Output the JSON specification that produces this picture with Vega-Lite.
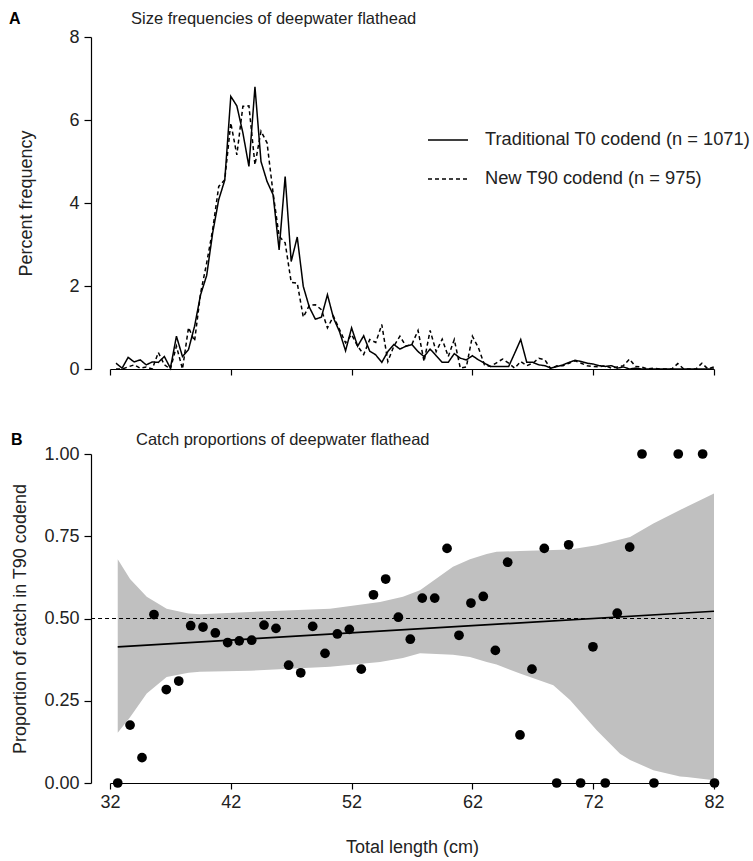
{
  "$schema": "https://vega.github.io/schema/vega-lite/v6.json",
  "padding": {"left": 8, "top": 10, "right": 5, "bottom": 5},
  "background": "white",
  "config": {
    "view": {"stroke": null},
    "font": "Liberation Sans",
    "axis": {"domainColor": "black", "tickColor": "black", "labelColor": "#222", "titleColor": "#222", "labelFontSize": 18, "titleFontSize": 18, "titleFontWeight": "normal", "grid": false, "tickSize": 6, "domainWidth": 1.2, "tickWidth": 1.2, "labelFont": "Liberation Sans", "titleFont": "Liberation Sans", "labelFlush": false},
    "title": {"fontSize": 16.5, "fontWeight": "normal", "color": "#222", "font": "Liberation Sans"},
    "legend": {"labelFont": "Liberation Sans", "labelColor": "#222"}
  },
  "datasets": {
    "freq": [
      {"L":32.5,"t0":0.14,"t90":0.0},{"L":33,"t0":0.02,"t90":0.0},{"L":33.5,"t0":0.28,"t90":0.05},{"L":34,"t0":0.17,"t90":0.10},
      {"L":34.5,"t0":0.22,"t90":0.02},{"L":35,"t0":0.10,"t90":0.05},{"L":35.5,"t0":0.17,"t90":0.0},{"L":36,"t0":0.16,"t90":0.40},
      {"L":36.5,"t0":0.30,"t90":0.10},{"L":37,"t0":0.02,"t90":0.0},{"L":37.5,"t0":0.79,"t90":0.55},{"L":38,"t0":0.30,"t90":0.0},
      {"L":38.5,"t0":0.47,"t90":1.0},{"L":39,"t0":1.03,"t90":0.67},{"L":39.5,"t0":1.79,"t90":1.83},{"L":40,"t0":2.25,"t90":2.55},
      {"L":40.5,"t0":3.28,"t90":3.36},{"L":41,"t0":4.08,"t90":4.40},{"L":41.5,"t0":4.55,"t90":4.56},{"L":42,"t0":6.57,"t90":5.93},
      {"L":42.5,"t0":6.34,"t90":5.16},{"L":43,"t0":5.69,"t90":6.33},{"L":43.5,"t0":4.88,"t90":6.34},{"L":44,"t0":6.80,"t90":4.92},
      {"L":44.5,"t0":5.00,"t90":5.73},{"L":45,"t0":4.52,"t90":5.45},{"L":45.5,"t0":4.20,"t90":4.24},{"L":46,"t0":2.87,"t90":3.20},
      {"L":46.5,"t0":4.64,"t90":3.04},{"L":47,"t0":2.59,"t90":2.09},{"L":47.5,"t0":3.18,"t90":2.07},{"L":48,"t0":1.99,"t90":1.25},
      {"L":48.5,"t0":1.49,"t90":1.53},{"L":49,"t0":1.20,"t90":1.55},{"L":49.5,"t0":1.25,"t90":1.43},{"L":50,"t0":1.79,"t90":0.99},
      {"L":50.5,"t0":1.23,"t90":1.27},{"L":51,"t0":0.90,"t90":0.95},{"L":51.5,"t0":0.44,"t90":0.63},{"L":52,"t0":0.99,"t90":0.83},
      {"L":52.5,"t0":0.55,"t90":0.55},{"L":53,"t0":0.80,"t90":0.35},{"L":53.5,"t0":0.43,"t90":0.71},{"L":54,"t0":0.34,"t90":0.64},
      {"L":54.5,"t0":0.16,"t90":1.07},{"L":55,"t0":0.42,"t90":0.18},{"L":55.5,"t0":0.59,"t90":0.55},{"L":56,"t0":0.48,"t90":0.79},
      {"L":56.5,"t0":0.55,"t90":0.55},{"L":57,"t0":0.59,"t90":0.60},{"L":57.5,"t0":0.42,"t90":0.93},{"L":58,"t0":0.30,"t90":0.18},
      {"L":58.5,"t0":0.48,"t90":0.93},{"L":59,"t0":0.32,"t90":0.42},{"L":59.5,"t0":0.16,"t90":0.72},{"L":60,"t0":0.16,"t90":0.30},
      {"L":60.5,"t0":0.37,"t90":0.71},{"L":61,"t0":0.26,"t90":0.02},{"L":61.5,"t0":0.22,"t90":0.05},{"L":62,"t0":0.32,"t90":0.79},
      {"L":62.5,"t0":0.22,"t90":0.51},{"L":63,"t0":0.14,"t90":0.10},{"L":63.5,"t0":0.06,"t90":0.06},{"L":64,"t0":0.06,"t90":0.15},
      {"L":64.5,"t0":0.06,"t90":0.24},{"L":65,"t0":0.06,"t90":0.14},{"L":65.5,"t0":0.38,"t90":0.02},{"L":66,"t0":0.71,"t90":0.18},
      {"L":66.5,"t0":0.16,"t90":0.08},{"L":67,"t0":0.16,"t90":0.14},{"L":67.5,"t0":0.10,"t90":0.26},{"L":68,"t0":0.08,"t90":0.22},
      {"L":68.5,"t0":0.02,"t90":0.0},{"L":69,"t0":0.06,"t90":0.08},{"L":69.5,"t0":0.10,"t90":0.08},{"L":70,"t0":0.16,"t90":0.14},
      {"L":70.5,"t0":0.21,"t90":0.20},{"L":71,"t0":0.18,"t90":0.14},{"L":71.5,"t0":0.14,"t90":0.08},{"L":72,"t0":0.12,"t90":0.06},
      {"L":72.5,"t0":0.08,"t90":0.05},{"L":73,"t0":0.06,"t90":0.08},{"L":73.5,"t0":0.08,"t90":0.02},{"L":74,"t0":0.02,"t90":0.05},
      {"L":74.5,"t0":0.05,"t90":0.08},{"L":75,"t0":0.0,"t90":0.24},{"L":75.5,"t0":0.02,"t90":0.06},{"L":76,"t0":0.0,"t90":0.05},
      {"L":76.5,"t0":0.0,"t90":0.0},{"L":77,"t0":0.0,"t90":0.02},{"L":77.5,"t0":0.0,"t90":0.0},{"L":78,"t0":0.0,"t90":0.0},
      {"L":78.5,"t0":0.0,"t90":0.0},{"L":79,"t0":0.0,"t90":0.13},{"L":79.5,"t0":0.0,"t90":0.0},{"L":80,"t0":0.0,"t90":0.0},
      {"L":80.5,"t0":0.0,"t90":0.0},{"L":81,"t0":0.0,"t90":0.14},{"L":81.5,"t0":0.0,"t90":0.0},{"L":82,"t0":0.0,"t90":0.05}
    ],
    "pts": [
      {"L":32.64,"p":0.0},{"L":33.66,"p":0.176},{"L":34.65,"p":0.077},{"L":35.64,"p":0.512},{"L":36.66,"p":0.284},
      {"L":37.69,"p":0.31},{"L":38.68,"p":0.478},{"L":39.70,"p":0.474},{"L":40.72,"p":0.456},{"L":41.74,"p":0.427},
      {"L":42.70,"p":0.432},{"L":43.73,"p":0.434},{"L":44.75,"p":0.48},{"L":45.74,"p":0.47},{"L":46.79,"p":0.358},
      {"L":47.79,"p":0.335},{"L":48.78,"p":0.476},{"L":49.80,"p":0.394},{"L":50.82,"p":0.453},{"L":51.81,"p":0.467},
      {"L":52.80,"p":0.346},{"L":53.81,"p":0.572},{"L":54.82,"p":0.62},{"L":55.87,"p":0.504},{"L":56.86,"p":0.437},
      {"L":57.85,"p":0.562},{"L":58.88,"p":0.562},{"L":59.90,"p":0.713},{"L":60.89,"p":0.449},{"L":61.88,"p":0.547},
      {"L":62.90,"p":0.567},{"L":63.90,"p":0.403},{"L":64.92,"p":0.671},{"L":65.94,"p":0.146},{"L":66.93,"p":0.346},
      {"L":67.95,"p":0.713},{"L":68.98,"p":0.0},{"L":69.97,"p":0.724},{"L":70.96,"p":0.0},{"L":71.98,"p":0.414},
      {"L":73.00,"p":0.0},{"L":73.99,"p":0.516},{"L":75.02,"p":0.717},{"L":76.04,"p":1.0},{"L":77.03,"p":0.0},
      {"L":79.04,"p":1.0},{"L":81.06,"p":1.0},{"L":82.04,"p":0.0}
    ],
    "band": [
      {"L":32.64,"lo":0.153,"hi":0.68},{"L":33.66,"lo":0.20,"hi":0.62},{"L":35.04,"lo":0.272,"hi":0.566},
      {"L":36.69,"lo":0.322,"hi":0.53},{"L":38.5,"lo":0.335,"hi":0.515},{"L":39.45,"lo":0.338,"hi":0.513},
      {"L":43.59,"lo":0.341,"hi":0.52},{"L":50.21,"lo":0.353,"hi":0.53},{"L":54.35,"lo":0.368,"hi":0.55},
      {"L":56.25,"lo":0.38,"hi":0.566},{"L":57.66,"lo":0.394,"hi":0.586},{"L":60.39,"lo":0.39,"hi":0.657},
      {"L":61.8,"lo":0.383,"hi":0.68},{"L":63.18,"lo":0.368,"hi":0.696},{"L":64.0,"lo":0.36,"hi":0.703},
      {"L":65.94,"lo":0.333,"hi":0.705},{"L":68.7,"lo":0.297,"hi":0.708},{"L":70.08,"lo":0.252,"hi":0.71},
      {"L":72.29,"lo":0.16,"hi":0.723},{"L":74.22,"lo":0.089,"hi":0.74},{"L":75.05,"lo":0.07,"hi":0.748},
      {"L":76.98,"lo":0.039,"hi":0.789},{"L":79.19,"lo":0.02,"hi":0.83},{"L":79.74,"lo":0.018,"hi":0.84},
      {"L":82.0,"lo":0.008,"hi":0.88}
    ],
    "fit": [{"L":32.64,"p":0.414},{"L":82.0,"p":0.522}],
    "ref": [{"L0":30.43,"L1":82,"p":0.5}]
  },
  "spacing": 53,
  "vconcat": [
    {
      "title": {"text": "A", "anchor": "start", "frame": "bounds", "dx": -9, "fontWeight": "bold", "fontSize": 16, "offset": -16, "color": "black"},
      "vconcat": [
        {
          "title": {"text": "Size frequencies of deepwater flathead", "anchor": "start", "frame": "group", "dx": 21, "offset": 1},
          "width": 604,
          "height": 332,
          "data": {"name": "freq"},
          "transform": [{"fold": ["t0", "t90"], "as": ["series", "pct"]}],
          "mark": {"type": "line", "strokeWidth": 1.5, "color": "black"},
          "encoding": {
            "x": {"field": "L", "type": "quantitative", "scale": {"domain": [32, 82], "nice": false, "zero": false},
                  "axis": {"values": [32, 42, 52, 62, 72, 82], "labels": false, "title": null, "tickSize": 6}},
            "y": {"field": "pct", "type": "quantitative", "scale": {"domain": [0, 8], "nice": false},
                  "axis": {"values": [0, 2, 4, 6, 8], "offset": 19, "title": "Percent frequency", "tickSize": 7, "labelPadding": 5, "titlePadding": 33}},
            "strokeDash": {"field": "series", "type": "nominal",
                  "scale": {"domain": ["t0", "t90"], "range": [[1, 0], [4, 3]]},
                  "legend": {"orient": "none", "legendX": 317, "legendY": 82, "title": null, "symbolType": "stroke", "symbolSize": 1600,
                             "symbolStrokeColor": "black", "symbolStrokeWidth": 1.5, "labelFontSize": 18.3, "labelOffset": 16, "rowPadding": 9, "labelLimit": 0,
                             "labelExpr": "datum.label == 't0' ? 'Traditional T0 codend (n = 1071)' : 'New T90 codend (n = 975)'"}}
          }
        }
      ]
    },
    {
      "title": {"text": "B", "anchor": "start", "frame": "bounds", "dx": -1, "fontWeight": "bold", "fontSize": 16, "offset": -16, "color": "black"},
      "vconcat": [
        {
          "title": {"text": "Catch proportions of deepwater flathead", "anchor": "start", "frame": "group", "dx": 26, "offset": -3},
          "width": 604,
          "height": 329,
          "layer": [
            {
              "data": {"name": "band"},
              "mark": {"type": "area", "color": "#c0c0c0", "opacity": 1},
              "encoding": {
                "x": {"field": "L", "type": "quantitative", "scale": {"domain": [32, 82], "nice": false, "zero": false},
                      "axis": {"values": [32, 42, 52, 62, 72, 82], "title": "Total length (cm)", "tickSize": 6, "labelPadding": 4, "titlePadding": 27}},
                "y": {"field": "hi", "type": "quantitative", "scale": {"domain": [0, 1], "nice": false},
                      "axis": {"values": [0, 0.25, 0.5, 0.75, 1], "format": ".2f", "offset": 19, "title": "Proportion of catch in T90 codend", "tickSize": 7, "labelPadding": 5, "titlePadding": 14}},
                "y2": {"field": "lo"}
              }
            },
            {
              "data": {"name": "ref"},
              "mark": {"type": "rule", "strokeDash": [4, 3], "strokeWidth": 1, "color": "black"},
              "encoding": {
                "x": {"field": "L0", "type": "quantitative"},
                "x2": {"field": "L1"},
                "y": {"field": "p", "type": "quantitative"}
              }
            },
            {
              "data": {"name": "fit"},
              "mark": {"type": "line", "strokeWidth": 1.7, "color": "black"},
              "encoding": {
                "x": {"field": "L", "type": "quantitative"},
                "y": {"field": "p", "type": "quantitative"}
              }
            },
            {
              "data": {"name": "pts"},
              "mark": {"type": "circle", "size": 95, "color": "black", "opacity": 1},
              "encoding": {
                "x": {"field": "L", "type": "quantitative"},
                "y": {"field": "p", "type": "quantitative"}
              }
            }
          ]
        }
      ]
    }
  ]
}
